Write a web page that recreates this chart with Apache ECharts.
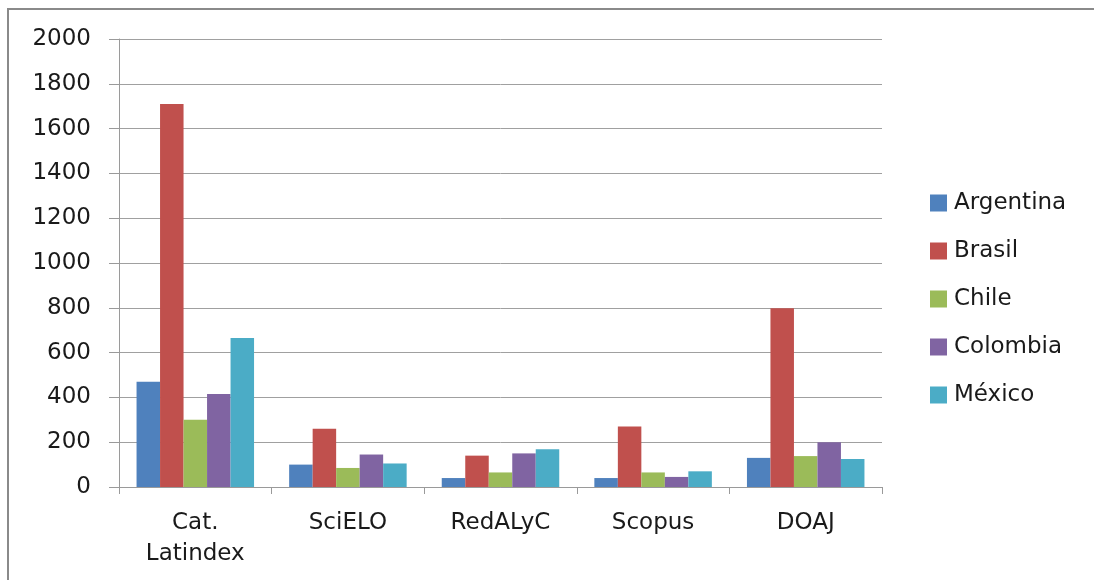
<!DOCTYPE html>
<html>
<head>
<meta charset="utf-8">
<script src="https://cdn.jsdelivr.net/npm/echarts@6/dist/echarts.min.js"></script>
<style>
html,body{margin:0;padding:0;background:#fff;}
#chart{width:1094px;height:580px;}
</style>
</head>
<body>
<div id="chart"></div>
<script>
const categories = ['Cat.\nLatindex', 'SciELO', 'RedALyC', 'Scopus', 'DOAJ'];
const seriesNames = ['Argentina', 'Brasil', 'Chile', 'Colombia', 'México'];
const argentina = [470, 100, 40, 40, 130];
const brasil = [1710, 260, 140, 270, 798];
const chile = [300, 85, 65, 65, 138];
const colombia = [415, 145, 150, 45, 200];
const mexico = [665, 105, 168, 70, 125];
const yTicks = [0, 200, 400, 600, 800, 1000, 1200, 1400, 1600, 1800, 2000];

const seriesData = [argentina, brasil, chile, colombia, mexico];
const colors = ['#4F81BD', '#C0504D', '#9BBB59', '#8064A2', '#4BACC6'];
const font = '"DejaVu Sans", sans-serif';

const chart = echarts.init(document.getElementById('chart'), null, {renderer: 'canvas'});
chart.setOption({
  animation: false,
  backgroundColor: '#fff',
  graphic: [{
    type: 'polyline',
    shape: {points: [[8, 600], [8, 9], [1100, 9]]},
    style: {fill: null, stroke: '#8a8a8a', lineWidth: 2},
    z: 0
  }],
  grid: {left: 119, top: 39, width: 763, height: 448, containLabel: false},
  legend: {
    orient: 'vertical',
    left: 925,
    top: 186,
    itemWidth: 17,
    itemHeight: 17,
    itemGap: 24,
    icon: 'rect',
    textStyle: {fontFamily: font, fontSize: 23, lineHeight: 24, color: '#1a1a1a', padding: [0, 0, 0, 2]},
    data: seriesNames
  },
  xAxis: {
    type: 'category',
    data: categories,
    axisLine: {lineStyle: {color: '#9a9a9a', width: 1}},
    axisTick: {show: true, length: 7, lineStyle: {color: '#9a9a9a'}, alignWithLabel: false},
    axisLabel: {fontFamily: font, fontSize: 23, color: '#1a1a1a', margin: 21, lineHeight: 31, interval: 0}
  },
  yAxis: {
    type: 'value',
    min: yTicks[0],
    max: yTicks[yTicks.length - 1],
    interval: yTicks[1] - yTicks[0],
    axisLine: {show: true, lineStyle: {color: '#9a9a9a', width: 1}},
    axisTick: {show: true, length: 10, lineStyle: {color: '#9a9a9a'}},
    splitLine: {lineStyle: {color: '#a0a0a0', width: 1}},
    axisLabel: {fontFamily: font, fontSize: 23, color: '#1a1a1a', margin: 28, formatter: v => String(v)}
  },
  series: seriesNames.map((n, i) => ({
    name: n,
    type: 'bar',
    data: seriesData[i],
    itemStyle: {color: colors[i]},
    barGap: '0%',
    barCategoryGap: '23%'
  }))
});
</script>
</body>
</html>
